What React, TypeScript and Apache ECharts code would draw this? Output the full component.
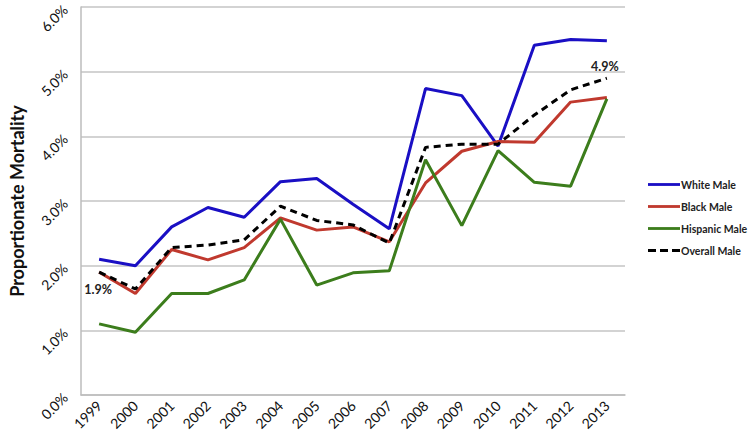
import React, { useEffect, useRef } from "react";
import * as echarts from "echarts";

const years = ["1999","2000","2001","2002","2003","2004","2005","2006","2007","2008","2009","2010","2011","2012","2013"];
const whiteMale = [2.1, 2.0, 2.6, 2.9, 2.75, 3.3, 3.35, 2.95, 2.57, 4.74, 4.63, 3.85, 5.41, 5.5, 5.48];
const blackMale = [1.9, 1.57, 2.25, 2.09, 2.28, 2.74, 2.55, 2.6, 2.37, 3.28, 3.77, 3.92, 3.91, 4.53, 4.6];
const hispanicMale = [1.1, 0.97, 1.57, 1.57, 1.78, 2.72, 1.7, 1.89, 1.92, 3.64, 2.62, 3.78, 3.29, 3.23, 4.58];
const overallMale = [1.9, 1.64, 2.28, 2.32, 2.4, 2.92, 2.7, 2.63, 2.35, 3.83, 3.88, 3.88, 4.33, 4.72, 4.9];
const labeledOverall = [0, 14];

export default function App() {
  const ref = useRef<HTMLDivElement>(null);
  useEffect(() => {
    const chart = echarts.init(ref.current!, null, { renderer: "svg" });
    const font = "Lato";
    const mk = (name: string, data: number[], color: string, dashed = false, labels: number[] = []) => ({
      name,
      type: "line",
      data,
      symbol: "none",
      lineStyle: { color, width: 3, type: dashed ? [7, 5] : "solid" },
      itemStyle: { color },
      z: dashed ? 5 : 2,
      markPoint: labels.length
        ? {
            symbol: "circle",
            symbolSize: 1,
            itemStyle: { color: "rgba(0,0,0,0)" },
            data: labels.map((i) => ({
              coord: [years[i], data[i]],
              value: data[i],
              label: {
                show: true,
                position: i === 0 ? "bottom" : "top",
                distance: i === 0 ? 10 : 5,
                offset: i === 0 ? [-1, 0] : [-2, 0],
                formatter: (p: any) => Number(p.value).toFixed(1) + "%",
                fontFamily: font,
                fontSize: 12.5,
                fontWeight: "bold",
                color: "#222",
              },
            })),
          }
        : undefined,
    });
    const solidIcon = "path://M0,0h34v3h-34z";
    const dashIcon = "path://M0,0h8v3h-8zM12,0h8v3h-8zM24,0h8v3h-8z";
    chart.setOption({
      animation: false,
      backgroundColor: "#fff",
      grid: { left: 80, right: 125, top: 6, bottom: 50 },
      legend: {
        orient: "vertical",
        left: 643,
        top: 174,
        itemWidth: 32,
        itemHeight: 3,
        itemGap: 11,
        textStyle: { fontFamily: font, fontSize: 10.5, fontWeight: "bold", color: "#222", padding: [0, 0, 0, -4] },
        data: [
          { name: "White Male", icon: solidIcon },
          { name: "Black Male", icon: solidIcon },
          { name: "Hispanic Male", icon: solidIcon },
          { name: "Overall Male", icon: dashIcon },
        ],
      },
      xAxis: {
        type: "category",
        data: years,
        boundaryGap: true,
        axisLine: { lineStyle: { color: "#bdbdbd", width: 1.5 } },
        axisTick: { show: false },
        axisLabel: { rotate: 45, fontFamily: font, fontSize: 14, color: "#111", margin: 8, interval: 0 },
      },
      yAxis: {
        type: "value",
        min: 0,
        max: 6,
        interval: 1,
        name: "Proportionate Mortality",
        nameLocation: "middle",
        nameGap: 55,
        nameRotate: 90,
        nameTextStyle: { fontFamily: font, fontSize: 18, fontWeight: "bold", color: "#111" },
        axisLine: { show: true, lineStyle: { color: "#bdbdbd", width: 1.5 } },
        axisTick: { show: false },
        splitLine: { lineStyle: { color: "#c4c4c4", width: 1.5 } },
        axisLabel: {
          rotate: 45,
          fontFamily: font,
          fontSize: 14,
          color: "#111",
          margin: 16,
          formatter: (v: number) => v.toFixed(1) + "%",
        },
      },
      series: [
        mk("White Male", whiteMale, "#1a0fc4"),
        mk("Black Male", blackMale, "#c0392e"),
        mk("Hispanic Male", hispanicMale, "#3c7d1c"),
        mk("Overall Male", overallMale, "#000", true, labeledOverall),
      ],
    });
    return () => chart.dispose();
  }, []);
  return <div ref={ref} style={{ width: 750, height: 445, position: "absolute", left: 0, top: 0 }} />;
}
